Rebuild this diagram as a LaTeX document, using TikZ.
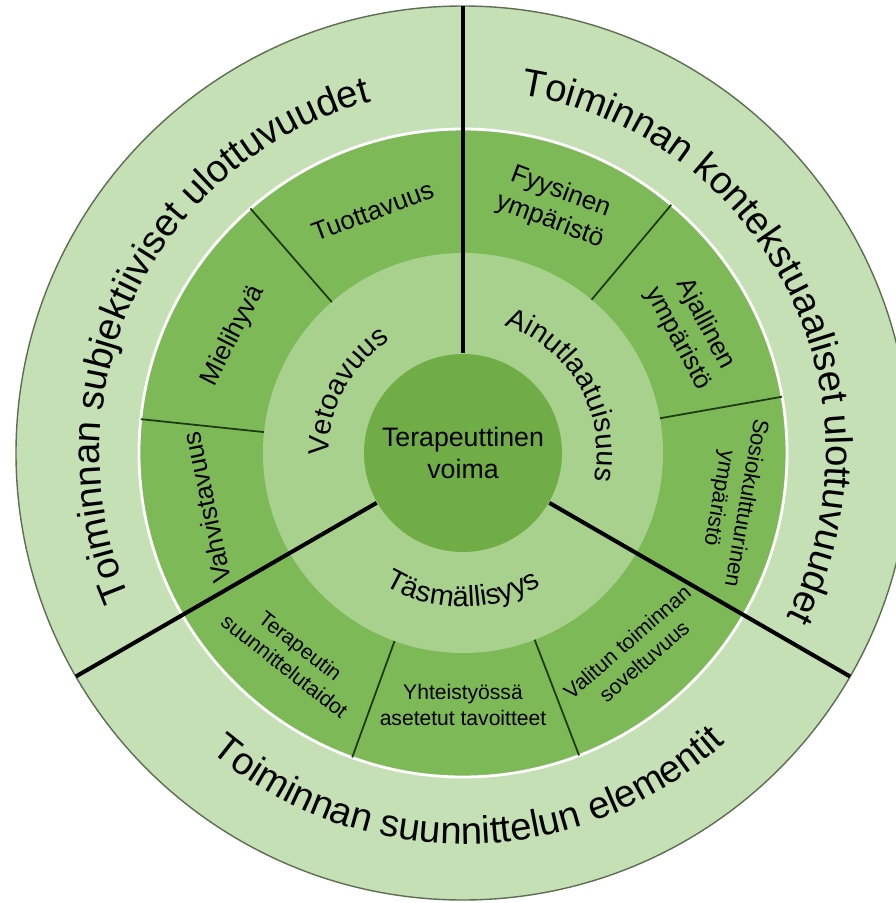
\documentclass[tikz,border=0pt]{standalone}
\usepackage{fontspec}
\setmainfont{Liberation Sans}
\usetikzlibrary{decorations.text}

\definecolor{ringout}{HTML}{C5E0B4}
\definecolor{ringmid}{HTML}{7EB957}
\definecolor{ringin}{HTML}{A9D18E}
\definecolor{core}{HTML}{70AD47}
\definecolor{rimline}{HTML}{5E6E55}
\definecolor{segline}{HTML}{1E3A12}

\newcommand{\ringfont}{\fontsize{10.9}{13}\selectfont}
\newcommand{\hubfont}{\fontsize{8.2}{10}\selectfont}

\tikzset{
  bigsep/.style={line width=1.15pt, black},
  smallsep/.style={line width=0.5pt, segline},
  segtxt/.style={align=center, inner sep=0pt, font=\fontsize{7.4}{8.8}\selectfont},
  segsmall/.style={segtxt, font=\fontsize{6}{7.3}\selectfont},
}

\begin{document}
\begin{tikzpicture}
                \useasboundingbox (-4.63,-4.50) rectangle (4.33,4.53);
                \clip (-4.63,-4.50) rectangle (4.33,4.53);

                \fill[ringout] (0,0) circle (4.47); %ulkokehä
                \draw[rimline, line width=0.4pt] (0,0) circle (4.47);
                \fill[ringmid] (0,0) circle (3.24); %keskikehä
                \draw[white, line width=0.8pt] (0,0) circle (3.24);
                \fill[ringin] (0,0) circle (2.00); %sisäkehä
                \node[circle, fill=core, minimum size=1.98cm, inner sep=0pt, align=center,
                      font=\fontsize{7.6}{9.2}\selectfont] (voima) at (0,0) {Terapeuttinen\\voima};

                \foreach \a in {10,50,131,174,250,291} \draw[smallsep] (\a:2.00) -- (\a:3.24); %ohuet rajat
                \foreach \a in {90,210,330} \draw[bigsep] (voima.\a) -- (\a:4.47); %paksut rajat

                % ulkokehän tekstit
                \path[decorate, decoration={text along path, text align=center,
                      text={|\ringfont|Toiminnan subjektiiviset ulottuvuudet}}]
                      (214:3.63) arc[start angle=214, end angle=94, radius=3.63];
                \path[decorate, decoration={text along path, text align=center,
                      text={|\ringfont|Toiminnan kontekstuaaliset ulottuvuudet}}]
                      (89:3.63) arc[start angle=89, end angle=-35, radius=3.63];
                \path[decorate, decoration={text along path, text align=center,
                      text={|\ringfont|Toiminnan suunnittelun elementit}}]
                      (211:3.91) arc[start angle=211, end angle=331, radius=3.91];

                % sisäkehän tekstit
                \path[decorate, decoration={text along path, text align=center,
                      text={|\hubfont|Vetoavuus}}]
                      (202:1.34) arc[start angle=202, end angle=102, radius=1.34];
                \path[decorate, decoration={text along path, text align=center,
                      text={|\hubfont|Ainutlaatuisuus}}]
                      (85:1.34) arc[start angle=85, end angle=-25, radius=1.34];
                \path[decorate, decoration={text along path, text align=center,
                      text={|\hubfont|Täsmällisyys}}]
                      (215:1.54) arc[start angle=215, end angle=325, radius=1.54];

                % keskikehän lohkot
                \node[segtxt, rotate=20.5] (tuot) at (110.5:2.58) {Tuottavuus};
                \node[segtxt, rotate=63] (miel) at (153:2.58) {Mielihyvä};
                \node[segtxt, rotate=102] (vahv) at (192:2.62) {Vahvistavuus};
                \node[segtxt, rotate=-20.5] (fyys) at (69.5:2.63) {Fyysinen\\ympäristö};
                \node[segtxt, rotate=-62] (ajal) at (28:2.59) {Ajallinen\\ympäristö};
                \node[segtxt, rotate=-100, font=\fontsize{6.3}{7.8}\selectfont] (sosi) at (-10:2.73) {Sosiokulttuurinen\\ympäristö};
                \node[segsmall, rotate=-38] (tera) at (230:2.65) {Terapeutin\\suunnittelutaidot};
                \node[segsmall] (yhte) at (270:2.52) {Yhteistyössä\\asetetut tavoitteet};
                \node[segsmall, rotate=41] (vali) at (311:2.63) {Valitun toiminnan\\soveltuvuus};

\end{tikzpicture}
\end{document}
